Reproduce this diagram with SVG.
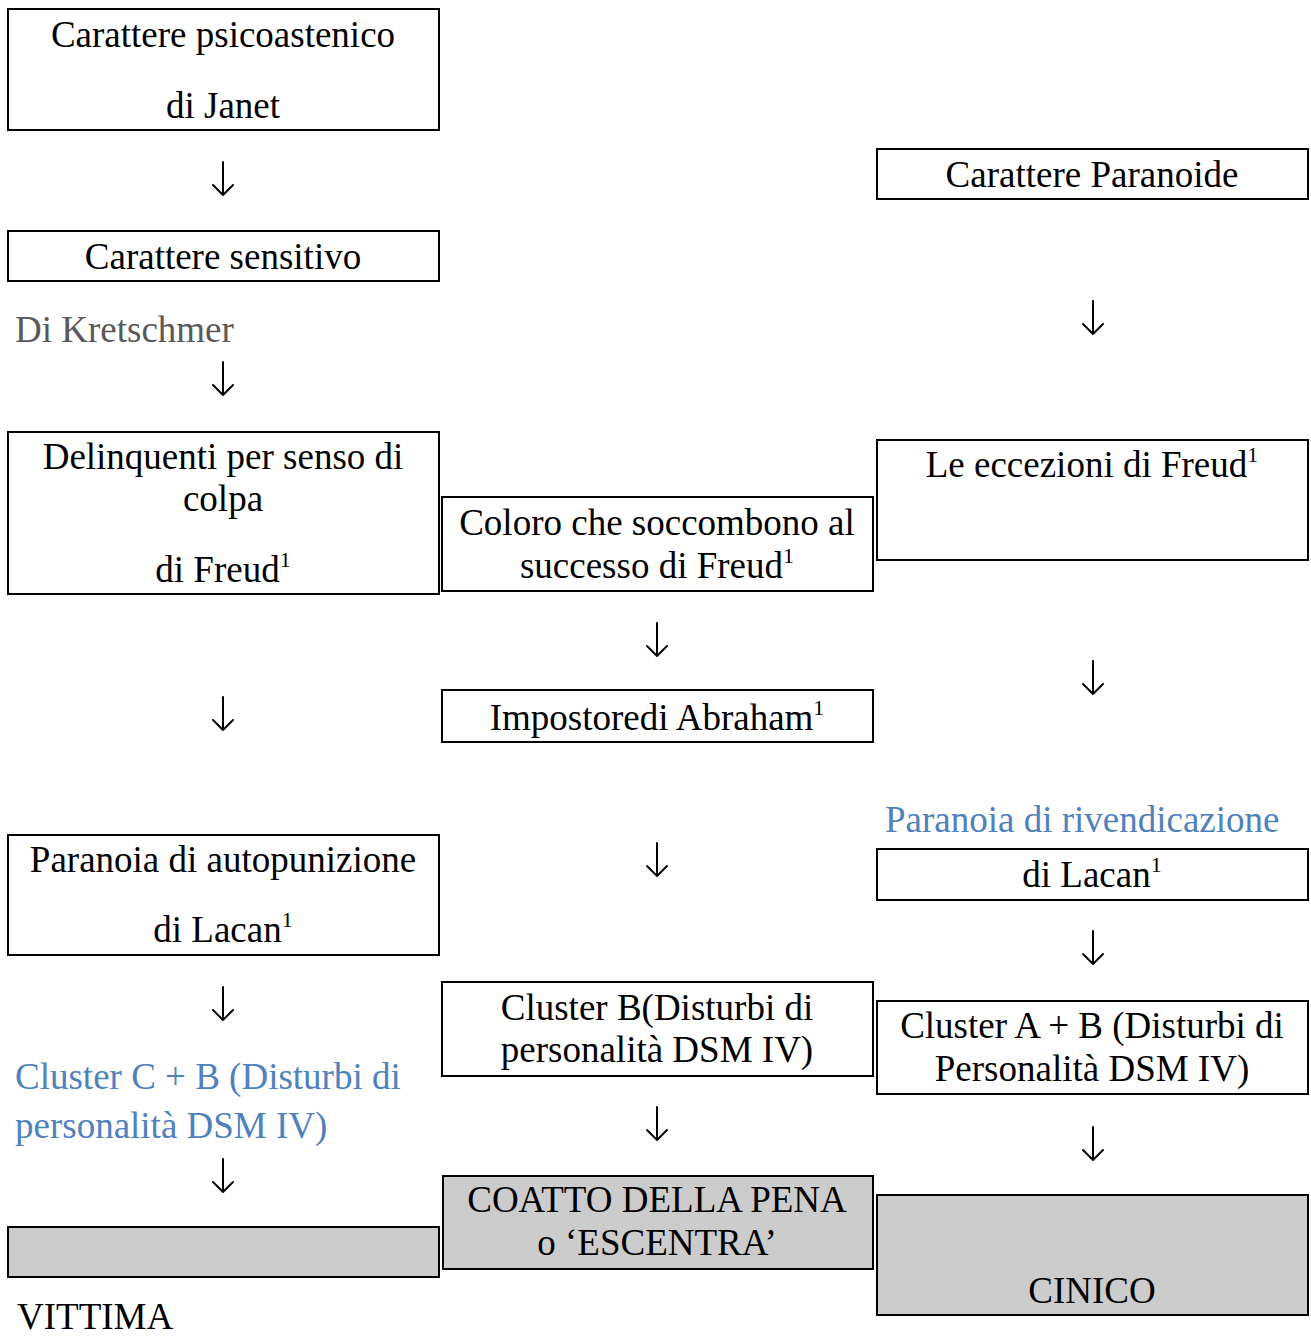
<svg xmlns="http://www.w3.org/2000/svg" width="1311" height="1338" viewBox="0 0 1311 1338">
<style>
.box{fill:#fff;stroke:#000;stroke-width:2}
.gbox{fill:#cccccc;stroke:#000;stroke-width:2}
text{font-family:"Liberation Serif","Times New Roman",serif;font-size:37px;fill:#000}
.c{text-anchor:middle}
.sup{font-size:22px}
.blue{fill:#4f81bd}
.gray{fill:#595959}
.arr{fill:none;stroke:#000;stroke-width:2;stroke-linecap:round;stroke-linejoin:round}
</style>
<defs>
<path id="a" d="M0,0 V33 M-10,23 L0,33 L10,23"/>
</defs>
<rect width="1311" height="1338" fill="#fff"/>

<g id="n-psicoastenico">
<rect class="box" x="8" y="9" width="431" height="121"/>
<text class="c" x="223" y="47">Carattere psicoastenico</text>
<text class="c" x="223" y="118">di Janet</text>
</g>
<g id="n-sensitivo">
<rect class="box" x="8" y="231" width="431" height="50"/>
<text class="c" x="223" y="269">Carattere sensitivo</text>
</g>
<text id="t-kretschmer" class="gray" x="15" y="342">Di Kretschmer</text>
<g id="n-delinquenti">
<rect class="box" x="8" y="432" width="431" height="162"/>
<text class="c" x="223" y="469">Delinquenti per senso di</text>
<text class="c" x="223" y="511">colpa</text>
<text class="c" x="223" y="582">di Freud<tspan class="sup" dy="-15">1</tspan></text>
</g>
<g id="n-coloro">
<rect class="box" x="442" y="497" width="431" height="94"/>
<text class="c" x="657" y="535">Coloro che soccombono al</text>
<text class="c" x="657" y="578">successo di Freud<tspan class="sup" dy="-15">1</tspan></text>
</g>
<g id="n-paranoide">
<rect class="box" x="877" y="149" width="431" height="50"/>
<text class="c" x="1092" y="187">Carattere Paranoide</text>
</g>
<g id="n-eccezioni">
<rect class="box" x="877" y="440" width="431" height="120"/>
<text class="c" x="1092" y="477">Le eccezioni di Freud<tspan class="sup" dy="-15">1</tspan></text>
</g>
<g id="n-impostore">
<rect class="box" x="442" y="690" width="431" height="52"/>
<text class="c" x="657" y="730">Impostoredi Abraham<tspan class="sup" dy="-15">1</tspan></text>
</g>
<text id="t-rivendicazione" class="blue" x="885" y="832">Paranoia di rivendicazione</text>
<g id="n-lacan-r">
<rect class="box" x="877" y="849" width="431" height="51"/>
<text class="c" x="1092" y="887">di Lacan<tspan class="sup" dy="-15">1</tspan></text>
</g>
<g id="n-autopunizione">
<rect class="box" x="8" y="835" width="431" height="120"/>
<text class="c" x="223" y="872">Paranoia di autopunizione</text>
<text class="c" x="223" y="942">di Lacan<tspan class="sup" dy="-15">1</tspan></text>
</g>
<g id="n-clusterB">
<rect class="box" x="442" y="982" width="431" height="94"/>
<text class="c" x="657" y="1020">Cluster B(Disturbi di</text>
<text class="c" x="657" y="1062">personalità DSM IV)</text>
</g>
<g id="n-clusterAB">
<rect class="box" x="877" y="1001" width="431" height="93"/>
<text class="c" x="1092" y="1038">Cluster A + B (Disturbi di</text>
<text class="c" x="1092" y="1081">Personalità DSM IV)</text>
</g>
<g id="t-clusterCB">
<text class="blue" x="15" y="1089">Cluster C + B (Disturbi di</text>
<text class="blue" x="15" y="1138">personalità DSM IV)</text>
</g>
<g id="n-vittima">
<rect class="gbox" x="8" y="1227" width="431" height="50"/>
<text x="17" y="1329">VITTIMA</text>
</g>
<g id="n-coatto">
<rect class="gbox" x="443" y="1176" width="430" height="93"/>
<text class="c" x="657" y="1212">COATTO DELLA PENA</text>
<text class="c" x="657" y="1255">o ‘ESCENTRA’</text>
</g>
<g id="n-cinico">
<rect class="gbox" x="877" y="1195" width="431" height="120"/>
<text class="c" x="1092" y="1303">CINICO</text>
</g>

<g id="connectors" class="arr">
<use href="#a" x="223" y="162"/>
<use href="#a" x="223" y="362"/>
<use href="#a" x="223" y="697"/>
<use href="#a" x="223" y="987"/>
<use href="#a" x="223" y="1159"/>
<use href="#a" x="657" y="623"/>
<use href="#a" x="657" y="843"/>
<use href="#a" x="657" y="1107"/>
<use href="#a" x="1093" y="301"/>
<use href="#a" x="1093" y="661"/>
<use href="#a" x="1093" y="931"/>
<use href="#a" x="1093" y="1127"/>
</g>
</svg>
